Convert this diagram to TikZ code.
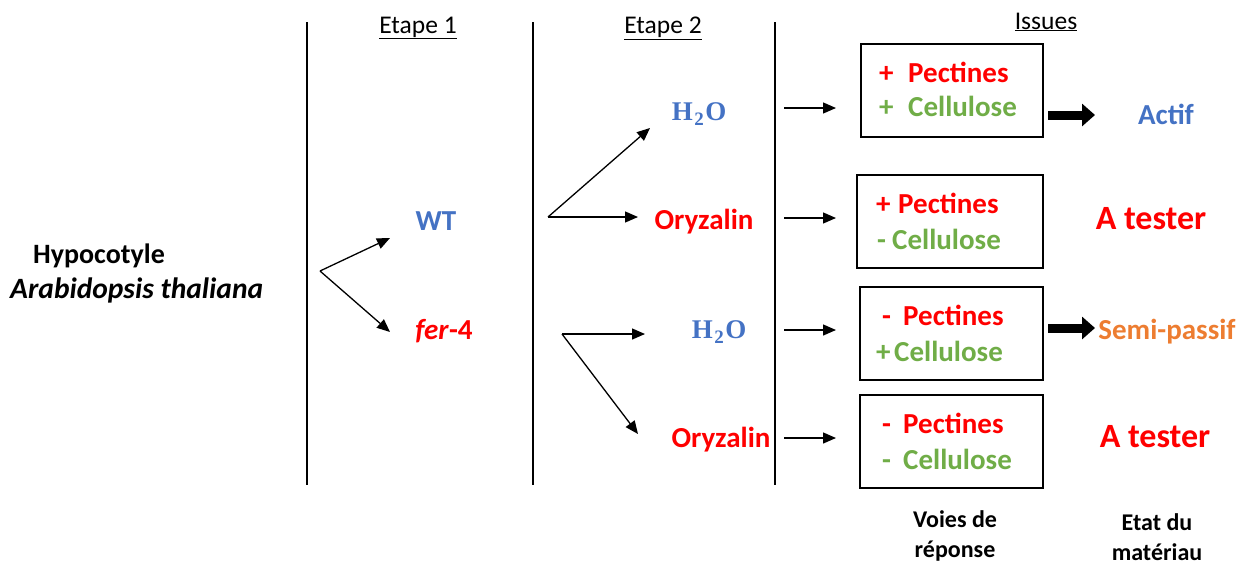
\documentclass[tikz,border=0pt]{standalone}
\usepackage{fontspec}
\setmainfont{Carlito}
\newfontfamily\hfont{Liberation Serif}
\usetikzlibrary{arrows.meta}
\definecolor{cblue}{HTML}{4472C4}
\definecolor{cred}{HTML}{FF0000}
\definecolor{cgreen}{HTML}{70AD47}
\definecolor{corange}{HTML}{ED7D31}
\newcommand{\waterlabel}{H\kern1.5pt\raisebox{-5pt}{\fontsize{19}{20}\selectfont 2}\kern1.5pt O}
\tikzset{
  txt/.style={inner sep=0pt, font=\fontsize{28}{30}\selectfont\bfseries},
  bt/.style={inner sep=0pt, font=\fontsize{29}{31}\selectfont\bfseries},
  big/.style={inner sep=0pt, font=\fontsize{34}{36}\selectfont\bfseries},
  wat/.style={inner sep=0pt, text=cblue, font=\fontsize{27}{29}\selectfont\hfont\bfseries},
  hdr/.style={inner sep=0pt, font=\fontsize{25.5}{28}\selectfont},
  foot/.style={inner sep=0pt, align=center, font=\fontsize{24}{30}\selectfont\bfseries},
  vline/.style={line width=2.8pt},
  thin/.style={line width=1.3pt, -{Triangle[length=13pt,width=11pt]}},
  fat/.style={line width=9pt, -{Triangle[length=13pt,width=22pt]}},
  box/.style={draw, line width=1.3pt, inner sep=0pt},
}
\begin{document}
\begin{tikzpicture}[x=1pt,y=-1pt]
\useasboundingbox (0,0) rectangle (1246,565);
% vertical separators
\coordinate (v1t) at (307,22); \coordinate (v1b) at (307,485);
\coordinate (v2t) at (533,22); \coordinate (v2b) at (533,485);
\coordinate (v3t) at (775,22); \coordinate (v3b) at (775,485);
\draw[vline] (v1t) -- (v1b);
\draw[vline] (v2t) -- (v2b);
\draw[vline] (v3t) -- (v3b);
% headers
\node[hdr] (e1) at (418,28) {\underline{Etape 1}};
\node[hdr] (e2) at (663,28) {\underline{Etape 2}};
\node[hdr] (iss) at (1046,22) {\underline{Issues}};
% left text
\node[txt, anchor=base west] (hyp) at (33,263) {Hypocotyle};
\node[txt, anchor=base west, font=\fontsize{29.5}{31}\selectfont\bfseries\itshape] (ara) at (10,298) {Arabidopsis thaliana};
% step 1
\node[bt, text=cblue] (wt) at (436,221) {WT};
\node[bt, text=cred] (fer) at (444,331) {\textit{fer}-4};
\coordinate (br0) at (320,271);
\coordinate (wtin) at (390,238);
\coordinate (ferin) at (390,332);
\draw[thin] (br0) -- (wtin);
\draw[thin] (br0) -- (ferin);
% step 2
\node[wat] (h1) at (699,114) {\waterlabel};
\node[bt, text=cred] (o1) at (704,222) {Oryzalin};
\node[wat] (h2) at (719,332) {\waterlabel};
\node[bt, text=cred] (o2) at (721,440) {Oryzalin};
\coordinate (br1) at (548,217);
\coordinate (h1in) at (650,128);
\coordinate (o1in) at (638,217);
\draw[thin] (br1) -- (h1in);
\draw[thin] (br1) -- (o1in);
\coordinate (br2) at (562,334);
\coordinate (h2in) at (645,334);
\coordinate (o2in) at (638,434);
\draw[thin] (br2) -- (h2in);
\draw[thin] (br2) -- (o2in);
% arrows to boxes
\foreach \i/\y in {1/108,2/218,3/330,4/438}{
  \coordinate (as\i) at (784,\y);
  \coordinate (ae\i) at (836,\y);
  \draw[thin] (as\i) -- (ae\i);
}
% boxes
\node[box, minimum width=182pt, minimum height=93pt] (b1) at (952,90.5) {};
\node[box, minimum width=186pt, minimum height=93pt] (b2) at (950,221.5) {};
\node[box, minimum width=183pt, minimum height=93pt] (b3) at (951.5,333.5) {};
\node[box, minimum width=183pt, minimum height=93pt] (b4) at (951.5,441.5) {};
% box 1
\node[bt, text=cred, anchor=base west] (b1s1) at (879,82) {+};
\node[bt, text=cred, anchor=base west] (b1w1) at (908,82) {Pectines};
\node[bt, text=cgreen, anchor=base west] (b1s2) at (879,116) {+};
\node[bt, text=cgreen, anchor=base west] (b1w2) at (908,116) {Cellulose};
% box 2
\node[bt, text=cred, anchor=base west] (b2s1) at (876,213) {+};
\node[bt, text=cred, anchor=base west] (b2w1) at (898,213) {Pectines};
\node[bt, text=cgreen, anchor=base west] (b2s2) at (877,249) {-};
\node[bt, text=cgreen, anchor=base west] (b2w2) at (892,249) {Cellulose};
% box 3
\node[bt, text=cred, anchor=base west] (b3s1) at (882,325) {-};
\node[bt, text=cred, anchor=base west] (b3w1) at (903,325) {Pectines};
\node[bt, text=cgreen, anchor=base west] (b3s2) at (876,361) {+};
\node[bt, text=cgreen, anchor=base west] (b3w2) at (894,361) {Cellulose};
% box 4
\node[bt, text=cred, anchor=base west] (b4s1) at (882,433) {-};
\node[bt, text=cred, anchor=base west] (b4w1) at (903,433) {Pectines};
\node[bt, text=cgreen, anchor=base west] (b4s2) at (882,469) {-};
\node[bt, text=cgreen, anchor=base west] (b4w2) at (903,469) {Cellulose};
% outcomes
\coordinate (f1s) at (1048,115); \coordinate (f1e) at (1095,115);
\draw[fat] (f1s) -- (f1e);
\coordinate (f3s) at (1048,328); \coordinate (f3e) at (1095,328);
\draw[fat] (f3s) -- (f3e);
\node[bt, text=cblue] (act) at (1166,114) {Actif};
\node[big, text=cred] (at1) at (1151,219) {A tester};
\node[bt, text=corange] (semi) at (1167,332) {Semi-passif};
\node[big, text=cred] (at2) at (1155,437) {A tester};
% footer
\node[foot] (voies) at (955,536) {Voies de\\réponse};
\node[foot] (etat) at (1157,537) {Etat du\\matériau};
\end{tikzpicture}
\end{document}
